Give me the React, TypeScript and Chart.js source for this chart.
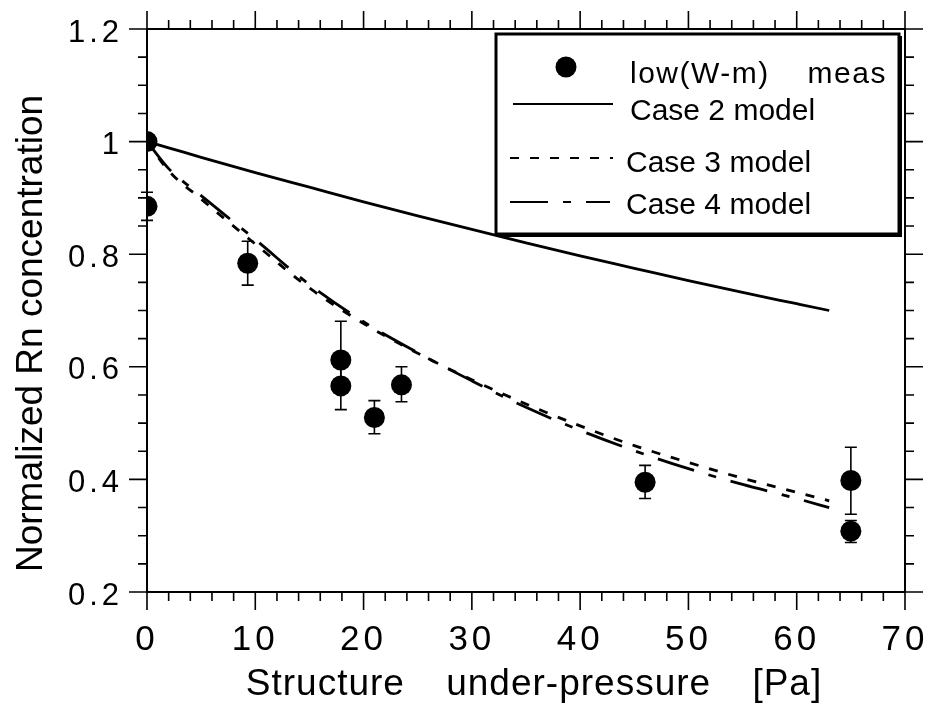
import React, { useEffect, useRef } from 'react';
import { Chart, registerables } from 'chart.js';

Chart.register(...registerables);

const FONT = "'Liberation Sans', Arial, Helvetica, sans-serif";

// Measurements: low(W-m) meas
const measX = [0, 0, 9.3, 17.9, 17.9, 21.0, 23.5, 46.0, 65.0, 65.0];
const measY = [1.0, 0.885, 0.784, 0.612, 0.566, 0.51, 0.568, 0.395, 0.398, 0.308];
const measLo = [1.0, 0.86, 0.745, 0.575, 0.524, 0.481, 0.538, 0.366, 0.338, 0.288];
const measHi = [1.0, 0.91, 0.823, 0.681, 0.6, 0.54, 0.6, 0.425, 0.457, 0.327];

// Model curves
const modelX = [0, 2, 5, 10, 15, 20, 25, 30, 35, 40, 45, 50, 55, 60, 63];
const case2Y = [1.0, 0.989, 0.972, 0.945, 0.919, 0.893, 0.868, 0.844, 0.82, 0.797, 0.775, 0.753, 0.732, 0.712, 0.7];
const case3Y = [1.0, 0.948, 0.898, 0.818, 0.74, 0.677, 0.624, 0.577, 0.534, 0.495, 0.46, 0.43, 0.402, 0.377, 0.362];
const case4Y = [1.0, 0.952, 0.904, 0.826, 0.746, 0.68, 0.625, 0.575, 0.528, 0.487, 0.451, 0.419, 0.391, 0.366, 0.35];

// Axes
const xMin = 0, xMax = 70, xStep = 10, xMinor = 2;
const yMin = 0.2, yMax = 1.2, yStep = 0.2, yMinor = 0.05;

const seriesLabels = ['low(W-m) meas', 'Case 2 model', 'Case 3 model', 'Case 4 model'];
const xTitle = 'Structure under-pressure [Pa]';
const yTitle = 'Normalized Rn concentration';

const case3Dash = [9, 11];
const case4Dash = [38, 15, 8, 15];

export default function App() {
  const canvasRef = useRef<HTMLCanvasElement | null>(null);

  useEffect(() => {
    document.body.style.margin = '0';
    const canvas = canvasRef.current;
    if (!canvas) return;

    const decor = {
      id: 'decor',
      beforeDraw(chart: any) {
        const ctx = chart.ctx;
        ctx.letterSpacing = '4px';
      },
      beforeDatasetsDraw(chart: any) {
        const ctx = chart.ctx;
        ctx.letterSpacing = '0px';
        const xs = chart.scales.x;
        const ys = chart.scales.y;
        ctx.save();
        ctx.strokeStyle = '#000';
        ctx.lineWidth = 1.6;
        const cap = 6;
        for (let i = 0; i < measX.length; i++) {
          if (measHi[i] === measLo[i]) continue;
          const px = xs.getPixelForValue(measX[i]);
          const pHi = ys.getPixelForValue(measHi[i]);
          const pLo = ys.getPixelForValue(measLo[i]);
          ctx.beginPath();
          ctx.moveTo(px, pHi);
          ctx.lineTo(px, pLo);
          ctx.moveTo(px - cap, pHi);
          ctx.lineTo(px + cap, pHi);
          ctx.moveTo(px - cap, pLo);
          ctx.lineTo(px + cap, pLo);
          ctx.stroke();
        }
        ctx.restore();
      },
      afterDraw(chart: any) {
        const ctx = chart.ctx;
        const xs = chart.scales.x;
        const ys = chart.scales.y;
        const { left, right, top, bottom } = chart.chartArea;
        ctx.save();
        ctx.letterSpacing = '0px';
        ctx.strokeStyle = '#000';
        ctx.fillStyle = '#000';
        // frame
        ctx.lineWidth = 2;
        ctx.strokeRect(left, top, right - left, bottom - top);
        // ticks
        ctx.lineWidth = 1.6;
        ctx.beginPath();
        const nx = Math.round((xMax - xMin) / xMinor);
        const perX = Math.round(xStep / xMinor);
        for (let i = 0; i <= nx; i++) {
          const v = xMin + i * xMinor;
          const px = xs.getPixelForValue(v);
          const len = i % perX === 0 ? 18 : 9;
          ctx.moveTo(px, bottom);
          ctx.lineTo(px, bottom + len);
          ctx.moveTo(px, top);
          ctx.lineTo(px, top - len);
        }
        const ny = Math.round((yMax - yMin) / yMinor);
        const perY = Math.round(yStep / yMinor);
        for (let i = 0; i <= ny; i++) {
          const v = yMin + i * yMinor;
          const py = ys.getPixelForValue(v);
          const len = i % perY === 0 ? 18 : 9;
          ctx.moveTo(left, py);
          ctx.lineTo(left - len, py);
          ctx.moveTo(right, py);
          ctx.lineTo(right + len, py);
        }
        ctx.stroke();

        // axis titles
        ctx.font = `37px ${FONT}`;
        ctx.textAlign = 'center';
        ctx.textBaseline = 'alphabetic';
        ctx.letterSpacing = '1px';
        (ctx as any).wordSpacing = '30px';
        ctx.fillText(xTitle, (left + right) / 2 + 8, 695);
        ctx.letterSpacing = '0px';
        (ctx as any).wordSpacing = '0px';
        ctx.save();
        ctx.translate(42, (top + bottom) / 2 + 23);
        ctx.rotate(-Math.PI / 2);
        ctx.fillText(yTitle, 0, 0);
        ctx.restore();

        // legend box
        const lx0 = 496, ly0 = 34, lx1 = 899, ly1 = 234;
        ctx.fillStyle = '#fff';
        ctx.fillRect(lx0, ly0, lx1 - lx0, ly1 - ly0);
        ctx.fillStyle = '#000';
        ctx.lineWidth = 3;
        ctx.strokeRect(lx0, ly0, lx1 - lx0, ly1 - ly0);
        ctx.lineWidth = 2;
        ctx.beginPath();
        ctx.moveTo(lx1 + 2, ly0 + 2);
        ctx.lineTo(lx1 + 2, ly1 + 2);
        ctx.lineTo(lx0 + 2, ly1 + 2);
        ctx.stroke();

        ctx.font = `30px ${FONT}`;
        ctx.textAlign = 'left';
        ctx.textBaseline = 'alphabetic';
        const ds = chart.data.datasets;
        // entry 1: marker
        ctx.beginPath();
        ctx.arc(566, 67, 10.5, 0, Math.PI * 2);
        ctx.fill();
        ctx.letterSpacing = '1.5px';
        (ctx as any).wordSpacing = '28px';
        ctx.fillText(ds[0].label, 630, 83);
        (ctx as any).wordSpacing = '0px';
        ctx.letterSpacing = '0px';
        const rows = [
          { i: 1, y: 104, x0: 513, x1: 613, tx: 630, ty: 120 },
          { i: 2, y: 158, x0: 510, x1: 613, tx: 626, ty: 172 },
          { i: 3, y: 202, x0: 510, x1: 610, tx: 626, ty: 214 },
        ];
        for (const r of rows) {
          const d = ds[r.i];
          ctx.save();
          ctx.lineWidth = 2.2;
          ctx.setLineDash(d.borderDash || []);
          ctx.beginPath();
          ctx.moveTo(r.x0, r.y);
          ctx.lineTo(r.x1, r.y);
          ctx.stroke();
          ctx.restore();
          ctx.fillText(d.label, r.tx, r.ty);
        }
        ctx.restore();
      },
    };

    const noPad = (s: any) => {
      s.paddingTop = 0;
      s.paddingBottom = 0;
      s.paddingLeft = 0;
      s.paddingRight = 0;
    };

    const chart = new Chart(canvas, {
      type: 'scatter',
      data: {
        datasets: [
          {
            label: seriesLabels[0],
            data: measX.map((x, i) => ({ x, y: measY[i] })),
            backgroundColor: '#000',
            borderColor: '#000',
            pointRadius: 10.5,
            pointBorderWidth: 0,
            showLine: false,
          },
          {
            label: seriesLabels[1],
            data: modelX.map((x, i) => ({ x, y: case2Y[i] })),
            borderColor: '#000',
            borderWidth: 2.8,
            pointRadius: 0,
            showLine: true,
            cubicInterpolationMode: 'monotone',
          },
          {
            label: seriesLabels[2],
            data: modelX.map((x, i) => ({ x, y: case3Y[i] })),
            borderColor: '#000',
            borderWidth: 2.8,
            borderDash: case3Dash,
            pointRadius: 0,
            showLine: true,
            cubicInterpolationMode: 'monotone',
          },
          {
            label: seriesLabels[3],
            data: modelX.map((x, i) => ({ x, y: case4Y[i] })),
            borderColor: '#000',
            borderWidth: 2.8,
            borderDash: case4Dash,
            pointRadius: 0,
            showLine: true,
            cubicInterpolationMode: 'monotone',
          },
        ],
      } as any,
      options: {
        responsive: false,
        maintainAspectRatio: false,
        animation: false,
        events: [],
        layout: { padding: { top: 29, right: 28, left: 0, bottom: 0 } },
        plugins: {
          legend: { display: false },
          tooltip: { enabled: false },
        },
        scales: {
          x: {
            type: 'linear',
            min: xMin,
            max: xMax,
            grid: { display: false, drawTicks: false },
            border: { display: false },
            ticks: {
              stepSize: xStep,
              color: '#000',
              font: { family: FONT, size: 35 },
              padding: 27,
              maxRotation: 0,
            },
            afterFit: (s: any) => {
              s.height = 114;
              noPad(s);
            },
          },
          y: {
            type: 'linear',
            min: yMin,
            max: yMax,
            grid: { display: false, drawTicks: false },
            border: { display: false },
            ticks: {
              stepSize: yStep,
              color: '#000',
              font: { family: FONT, size: 31 },
              padding: 24,
              labelOffset: 4,
              callback: (v: any) => String(Number(Number(v).toFixed(2))),
            },
            afterFit: (s: any) => {
              s.width = 147;
              noPad(s);
            },
          },
        },
      } as any,
      plugins: [decor],
    });

    return () => {
      chart.destroy();
    };
  }, []);

  return (
    <div style={{ width: 933, height: 706 }}>
      <canvas ref={canvasRef} width={933} height={706} />
    </div>
  );
}
